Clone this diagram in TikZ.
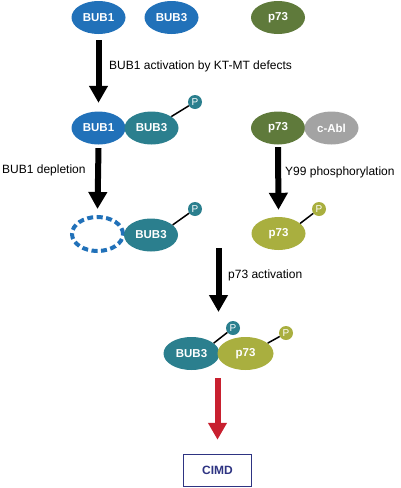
\documentclass[tikz,border=0pt]{standalone}
\usepackage{fontspec}
\setmainfont{Liberation Sans}
\usepackage{tikz}
\usetikzlibrary{shapes.geometric,arrows.meta}

\definecolor{bubone}{HTML}{2171B9}
\definecolor{bubthree}{HTML}{2B7F8E}
\definecolor{ptgreen}{HTML}{5F7A3B}
\definecolor{ptactive}{HTML}{A9AF3F}
\definecolor{abl}{HTML}{A3A3A3}
\definecolor{cimd}{HTML}{2E3482}
\definecolor{redarrow}{HTML}{C8202F}

\tikzset{
    protein/.style={ellipse,fill=#1,text=white,font=\fontsize{11.5}{13}\selectfont\bfseries,
        minimum width=54pt,minimum height=33pt,inner sep=0pt},
    phos/.style={circle,fill=#1,text=white,font=\fontsize{10}{11}\selectfont,
        minimum size=14pt,inner sep=0pt},
    bigarrow/.style={line width=6pt,-{Triangle[width=18pt,length=17pt]}},
    steplabel/.style={font=\fontsize{12}{14}\selectfont,anchor=base west,inner sep=0pt}
}

\begin{document}
\begin{tikzpicture}[x=1pt,y=-1pt]
    \useasboundingbox (0,0) rectangle (400,488);

    % Free proteins
    \node [protein=bubone] (bub1a) at (98.5,17.5) {BUB1};
    \node [protein=bubone] (bub3a) at (171.5,17.5) {BUB3};
    \node [protein=ptgreen] (p73a) at (278,17.5) {p73};

    % BUB1-BUB3 and p73-c-Abl
    \node [protein=bubone] (bub1b) at (98.5,128) {BUB1};
    \node [protein=bubthree] (bub3b) at (151.5,128) {BUB3};
    \node [phos=bubthree] (pb) at (195,102) {P};
    \draw [line width=1.5pt] (bub3b.30) -- (pb);
    \node [protein=ptgreen] (p73b) at (278,128) {p73};
    \node [protein=abl] (abl) at (331.5,128) {c-Abl};

    % After depletion / phosphorylation
    \node [ellipse,draw=bubone,line width=4pt,dash pattern=on 6pt off 3.5pt,
        minimum width=51pt,minimum height=34pt,inner sep=0pt] (gone) at (97.5,234) {};
    \node [protein=bubthree] (bub3c) at (151,235) {BUB3};
    \node [phos=bubthree] (pc) at (195,209) {P};
    \draw [line width=1.5pt] (bub3c.25) -- (pc);
    \node [protein=ptactive] (p73c) at (278.5,233.5) {p73};
    \node [phos=ptactive] (pd) at (319,209) {P};
    \draw [line width=1.5pt] (p73c.25) -- (pd);

    % Complex
    \node [protein=bubthree,minimum width=56pt] (bub3d) at (191.5,353.5) {BUB3};
    \node [protein=ptactive,minimum width=56pt] (p73d) at (245.5,353.5) {p73};
    \node [phos=bubthree] (pe) at (233,328) {P};
    \draw [line width=1.5pt] (bub3d.25) -- (pe);
    \node [phos=ptactive] (pf) at (286,333) {P};
    \draw [line width=1.5pt] (p73d.25) -- (pf);

    % Outcome
    \node [draw=cimd,line width=1.5pt,text=cimd,font=\fontsize{12}{14}\selectfont\bfseries,
        minimum width=68pt,minimum height=32pt,inner sep=0pt] (cimdbox) at (217.5,470.5) {CIMD};

    % Steps
    \draw [bigarrow] ([yshift=-6pt]bub1a.south) -- ([yshift=8.5pt]bub1b.north);
    \node [steplabel] (lab1) at (109,69) {BUB1 activation by KT-MT defects};
    \draw [bigarrow] ([yshift=-3.5pt]bub1b.south) -- ([yshift=6pt]gone.north);
    \node [steplabel] (lab2) at (2,173) {BUB1 depletion};
    \draw [bigarrow] ([yshift=-2.5pt]p73b.south) -- ([yshift=7pt]p73c.north);
    \node [steplabel] (lab3) at (285,175) {Y99 phosphorylation};
    \coordinate (actstart) at (218.5,248);
    \coordinate (actend) at (218.5,312);
    \draw [bigarrow] (actstart) -- (actend);
    \node [steplabel] (lab4) at (228,278) {p73 activation};
    \draw [bigarrow,color=redarrow] ([yshift=-8pt]cimdbox.north |- bub3d.south) -- ([yshift=14pt]cimdbox.north);
\end{tikzpicture}
\end{document}
